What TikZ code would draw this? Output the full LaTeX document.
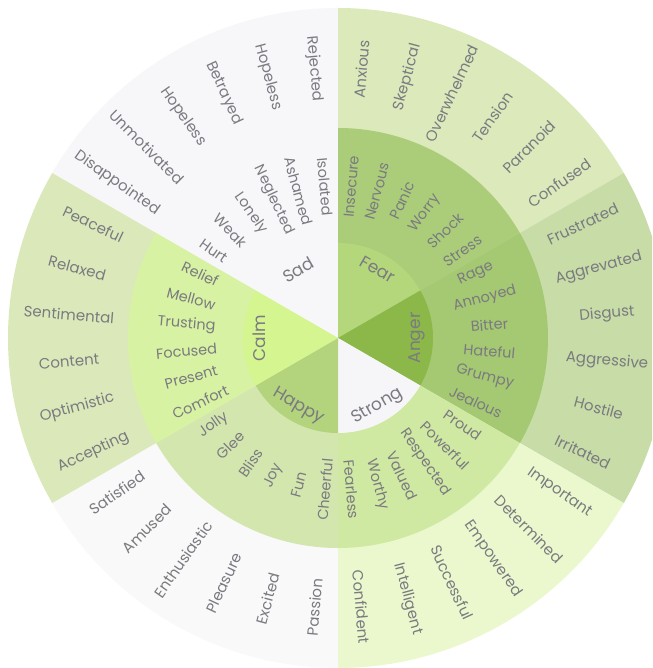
\documentclass[tikz,border=0pt]{standalone}
\usepackage{fontspec}
\setmainfont{Poppins}

\definecolor{txtgray}{HTML}{7A7A80}
\definecolor{sadc}{HTML}{F7F7FA}
\definecolor{fearin}{HTML}{B5D77B}
\definecolor{fearmid}{HTML}{ABCD79}
\definecolor{fearout}{HTML}{DBE9BB}
\definecolor{angerin}{HTML}{8CB84A}
\definecolor{angermid}{HTML}{A5C872}
\definecolor{angerout}{HTML}{C7DCA6}
\definecolor{strongin}{HTML}{F6F6F9}
\definecolor{strongmid}{HTML}{CFE8A2}
\definecolor{strongout}{HTML}{EBF8CD}
\definecolor{happyin}{HTML}{B3D47C}
\definecolor{happymid}{HTML}{D3E6AE}
\definecolor{happyout}{HTML}{F9F9FA}
\definecolor{calmin}{HTML}{D4F58F}
\definecolor{calmmid}{HTML}{D8F2A3}
\definecolor{calmout}{HTML}{DBE9BA}

\tikzset{
  word/.style={text=txtgray, inner sep=0pt, font=\fontsize{15}{15}\selectfont},
  midword/.style={word, font=\fontsize{14.5}{15}\selectfont},
  coreword/.style={word, font=\fontsize{17}{17}\selectfont},
}

\begin{document}
\begin{tikzpicture}
   \useasboundingbox (-338pt,-330pt) rectangle (314pt,338pt);
   \clip (-338pt,-330pt) rectangle (314pt,338pt);
   \fill[white] (-338pt,-330pt) rectangle (314pt,338pt);

   % outer ring
   \fill[sadc] (0,0) -- (90:330pt) arc (90:150:330pt) -- cycle;
   \fill[fearout] (0,0) -- (30:330pt) arc (30:90:330pt) -- cycle;
   \fill[angerout] (0,0) -- (-30:330pt) arc (-30:30:330pt) -- cycle;
   \fill[strongout] (0,0) -- (-90:330pt) arc (-90:-30:330pt) -- cycle;
   \fill[happyout] (0,0) -- (-150:330pt) arc (-150:-90:330pt) -- cycle;
   \fill[calmout] (0,0) -- (150:330pt) arc (150:210:330pt) -- cycle;
   % middle ring
   \fill[sadc] (0,0) -- (90:210pt) arc (90:150:210pt) -- cycle;
   \fill[fearmid] (0,0) -- (30:210pt) arc (30:90:210pt) -- cycle;
   \fill[angermid] (0,0) -- (-30:210pt) arc (-30:30:210pt) -- cycle;
   \fill[strongmid] (0,0) -- (-90:210pt) arc (-90:-30:210pt) -- cycle;
   \fill[happymid] (0,0) -- (-150:210pt) arc (-150:-90:210pt) -- cycle;
   \fill[calmmid] (0,0) -- (150:210pt) arc (150:210:210pt) -- cycle;
   % inner ring
   \fill[sadc] (0,0) -- (90:95pt) arc (90:150:95pt) -- cycle;
   \fill[fearin] (0,0) -- (30:95pt) arc (30:90:95pt) -- cycle;
   \fill[angerin] (0,0) -- (-30:95pt) arc (-30:30:95pt) -- cycle;
   \fill[strongin] (0,0) -- (-90:95pt) arc (-90:-30:95pt) -- cycle;
   \fill[happyin] (0,0) -- (-150:95pt) arc (-150:-90:95pt) -- cycle;
   \fill[calmin] (0,0) -- (150:95pt) arc (150:210:95pt) -- cycle;

   \node[coreword, rotate=30] (sad) at (120:79pt) {Sad};
   \node[coreword, rotate=-30] (fear) at (60:79pt) {Fear};
   \node[coreword, rotate=90] (anger) at (0:79pt) {Anger};
   \node[coreword, rotate=30] (strong) at (-60:79pt) {Strong};
   \node[coreword, rotate=-30] (happy) at (-120:79pt) {Happy};
   \node[coreword, rotate=90] (calm) at (180:79pt) {Calm};

   % sad
   \node[midword, rotate=-85] (isolated) at (95:152pt) {Isolated};
   \node[midword, rotate=-75] (ashamed) at (105:152pt) {Ashamed};
   \node[midword, rotate=-65] (neglected) at (115:152pt) {Neglected};
   \node[midword, rotate=-55] (lonely) at (125:152pt) {Lonely};
   \node[midword, rotate=-45] (weak) at (135:152pt) {Weak};
   \node[midword, rotate=-35] (hurt) at (145:152pt) {Hurt};
   \node[word, rotate=-85] (rejected) at (95:270pt) {Rejected};
   \node[word, rotate=-75] (hopeless1) at (105:270pt) {Hopeless};
   \node[word, rotate=-65] (betrayed) at (115:270pt) {Betrayed};
   \node[word, rotate=-55] (hopeless2) at (125:270pt) {Hopeless};
   \node[word, rotate=-45] (unmotivated) at (135:270pt) {Unmotivated};
   \node[word, rotate=-35] (disappointed) at (145:270pt) {Disappointed};

   % fear
   \node[midword, rotate=85] (insecure) at (85:152pt) {Insecure};
   \node[midword, rotate=75] (nervous) at (75:152pt) {Nervous};
   \node[midword, rotate=65] (panic) at (65:152pt) {Panic};
   \node[midword, rotate=55] (worry) at (55:152pt) {Worry};
   \node[midword, rotate=45] (shock) at (45:152pt) {Shock};
   \node[midword, rotate=35] (stress) at (35:152pt) {Stress};
   \node[word, rotate=85] (anxious) at (85:270pt) {Anxious};
   \node[word, rotate=75] (skeptical) at (75:270pt) {Skeptical};
   \node[word, rotate=65] (overwhelmed) at (65:270pt) {Overwhelmed};
   \node[word, rotate=55] (tension) at (55:270pt) {Tension};
   \node[word, rotate=45] (paranoid) at (45:270pt) {Paranoid};
   \node[word, rotate=35] (confused) at (35:270pt) {Confused};

   % anger
   \node[midword, rotate=25] (rage) at (25:152pt) {Rage};
   \node[midword, rotate=15] (annoyed) at (15:152pt) {Annoyed};
   \node[midword, rotate=5] (bitter) at (5:152pt) {Bitter};
   \node[midword, rotate=-5] (hateful) at (-5:152pt) {Hateful};
   \node[midword, rotate=-15] (grumpy) at (-15:152pt) {Grumpy};
   \node[midword, rotate=-25] (jealous) at (-25:152pt) {Jealous};
   \node[word, rotate=25] (frustrated) at (25:270pt) {Frustrated};
   \node[word, rotate=15] (aggrevated) at (15:270pt) {Aggrevated};
   \node[word, rotate=5] (disgust) at (5:270pt) {Disgust};
   \node[word, rotate=-5] (aggressive) at (-5:270pt) {Aggressive};
   \node[word, rotate=-15] (hostile) at (-15:270pt) {Hostile};
   \node[word, rotate=-25] (irritated) at (-25:270pt) {Irritated};

   % strong
   \node[midword, rotate=-35] (proud) at (-35:152pt) {Proud};
   \node[midword, rotate=-45] (powerful) at (-45:152pt) {Powerful};
   \node[midword, rotate=-55] (respected) at (-55:152pt) {Respected};
   \node[midword, rotate=-65] (valued) at (-65:152pt) {Valued};
   \node[midword, rotate=-75] (worthy) at (-75:152pt) {Worthy};
   \node[midword, rotate=-85] (fearless) at (-85:152pt) {Fearless};
   \node[word, rotate=-35] (important) at (-35:270pt) {Important};
   \node[word, rotate=-45] (determined) at (-45:270pt) {Determined};
   \node[word, rotate=-55] (empowered) at (-55:270pt) {Empowered};
   \node[word, rotate=-65] (successful) at (-65:270pt) {Successful};
   \node[word, rotate=-75] (intelligent) at (-75:270pt) {Intelligent};
   \node[word, rotate=-85] (confident) at (-85:270pt) {Confident};

   % happy
   \node[midword, rotate=85] (cheerful) at (-95:152pt) {Cheerful};
   \node[midword, rotate=75] (fun) at (-105:152pt) {Fun};
   \node[midword, rotate=65] (joy) at (-115:152pt) {Joy};
   \node[midword, rotate=55] (bliss) at (-125:152pt) {Bliss};
   \node[midword, rotate=45] (glee) at (-135:152pt) {Glee};
   \node[midword, rotate=35] (jolly) at (-145:152pt) {Jolly};
   \node[word, rotate=85] (passion) at (-95:270pt) {Passion};
   \node[word, rotate=75] (excited) at (-105:270pt) {Excited};
   \node[word, rotate=65] (pleasure) at (-115:270pt) {Pleasure};
   \node[word, rotate=55] (enthusiastic) at (-125:270pt) {Enthusiastic};
   \node[word, rotate=45] (amused) at (-135:270pt) {Amused};
   \node[word, rotate=35] (satisfied) at (-145:270pt) {Satisfied};

   % calm
   \node[midword, rotate=-25] (relief) at (155:152pt) {Relief};
   \node[midword, rotate=-15] (mellow) at (165:152pt) {Mellow};
   \node[midword, rotate=-5] (trusting) at (175:152pt) {Trusting};
   \node[midword, rotate=5] (focused) at (185:152pt) {Focused};
   \node[midword, rotate=15] (present) at (195:152pt) {Present};
   \node[midword, rotate=25] (comfort) at (205:152pt) {Comfort};
   \node[word, rotate=-25] (peaceful) at (155:270pt) {Peaceful};
   \node[word, rotate=-15] (relaxed) at (165:270pt) {Relaxed};
   \node[word, rotate=-5] (sentimental) at (175:270pt) {Sentimental};
   \node[word, rotate=5] (content) at (185:270pt) {Content};
   \node[word, rotate=15] (optimistic) at (195:270pt) {Optimistic};
   \node[word, rotate=25] (accepting) at (205:270pt) {Accepting};

\end{tikzpicture}
\end{document}
